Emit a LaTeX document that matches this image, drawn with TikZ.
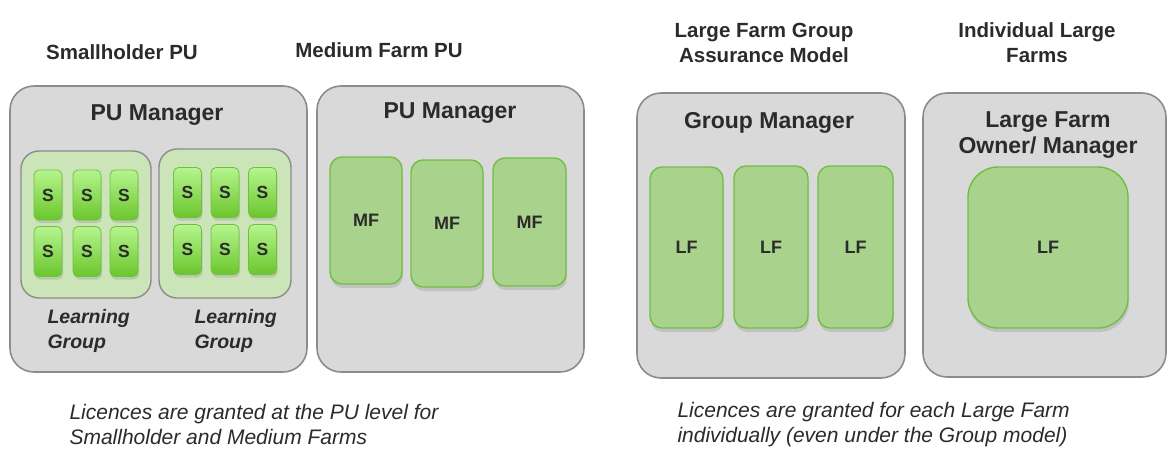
\documentclass[tikz,border=0pt]{standalone}
\usepackage{fontspec}
\setmainfont{Liberation Sans}
\usetikzlibrary{shadows}
\definecolor{panelfill}{HTML}{D9D9D9}
\definecolor{panelline}{HTML}{8C8C8C}
\definecolor{groupfill}{HTML}{CCE5B8}
\definecolor{farmfill}{HTML}{A9D38C}
\definecolor{farmline}{HTML}{72BE44}
\definecolor{stop}{HTML}{B5F58E}
\definecolor{sbottom}{HTML}{6BC62C}
\definecolor{txt}{HTML}{2B2B2B}
\tikzset{
  panel/.style={draw=panelline,fill=panelfill,line width=1.6pt,rounded corners=24pt,inner sep=0pt},
  group/.style={draw=panelline,fill=groupfill,line width=1.4pt,rounded corners=18pt,inner sep=0pt},
  sbox/.style={draw=farmline,line width=0.8pt,top color=stop,bottom color=sbottom,rounded corners=5pt,
    minimum width=28pt,minimum height=50pt,inner sep=0pt,text=txt,font=\fontsize{17.5}{20}\bfseries,
    drop shadow={shadow xshift=1pt,shadow yshift=-3pt,opacity=0.25}},
  farm/.style={draw=farmline,fill=farmfill,line width=1.4pt,rounded corners=12pt,inner sep=0pt,
    text=txt,font=\fontsize{18}{20}\bfseries,drop shadow={shadow xshift=1pt,shadow yshift=-4pt,opacity=0.25}},
  title/.style={text=txt,align=center,font=\fontsize{20.5}{25}\bfseries},
  head/.style={text=txt,align=center,font=\fontsize{23}{26}\bfseries},
  lgname/.style={text=txt,align=left,anchor=west,font=\fontsize{19.5}{25}\bfseries\itshape},
  note/.style={text=txt,align=left,anchor=west,font=\fontsize{21}{25}\itshape}
}
\begin{document}
\begin{tikzpicture}[x=1pt,y=-1pt]
                \useasboundingbox[fill=white] (0,0) rectangle (1169,453);
                \node[title] (tsh) at (122,52) {Smallholder PU};
                \node[title] (tmf) at (379,50) {Medium Farm PU};
                \node[title] (tlg) at (764,42.5) {Large Farm Group\\Assurance Model};
                \node[title] (tlf) at (1037,42.5) {Individual Large\\Farms};

                \node[panel,minimum width=297pt,minimum height=286pt] (psh) at (158.5,229) {};
                \node[panel,minimum width=267pt,minimum height=286pt] (pmf) at (450.5,229) {};
                \node[panel,minimum width=268pt,minimum height=285pt] (plg) at (771,235.5) {};
                \node[panel,minimum width=243pt,minimum height=284pt] (plf) at (1044.5,235) {};

                \node[head] (hsh) at (157,115) {PU Manager};
                \node[head] (hmf) at (450,113) {PU Manager};
                \node[head] (hlg) at (769,123) {Group Manager};
                \node[head] (hlf) at (1048,135) {Large Farm\\Owner/ Manager};

                \node[group,minimum width=130pt,minimum height=147pt] (ga) at (86,224.5) {};
                \node[group,minimum width=132pt,minimum height=149pt] (gb) at (225,223.5) {};
                \foreach \x/\n in {48/1,87/2,124/3}
                \foreach \y/\m in {195/1,251.5/2}
                \node[sbox] (sa\n\m) at (\x,\y) {S};
                \foreach \x/\n in {187.5/1,225/2,262.5/3}
                \foreach \y/\m in {192.5/1,249.5/2}
                \node[sbox] (sb\n\m) at (\x,\y) {S};
                \node[lgname] (la) at (44,330.5) {Learning\\Group};
                \node[lgname] (lb) at (191,330.5) {Learning\\Group};

                \node[farm,minimum width=72pt,minimum height=127pt] (mf1) at (366,220.5) {MF};
                \node[farm,minimum width=72pt,minimum height=127pt] (mf2) at (447,223.5) {MF};
                \node[farm,minimum width=73pt,minimum height=128pt] (mf3) at (529.5,222) {MF};

                \node[farm,minimum width=73pt,minimum height=161pt] (lf1) at (686.5,247.5) {LF};
                \node[farm,minimum width=74pt,minimum height=162pt] (lf2) at (771,247) {LF};
                \node[farm,minimum width=75pt,minimum height=162pt] (lf3) at (855.5,247) {LF};
                \node[farm,rounded corners=30pt,minimum width=160pt,minimum height=161pt] (lf4) at (1048,247.5) {LF};

                \node[note] (nl) at (66,424.5) {Licences are granted at the PU level for\\Smallholder and Medium Farms};
                \node[note] (nr) at (674,424.5) {Licences are granted for each Large Farm\\individually (even under the Group model)};
            \end{tikzpicture}
\end{document}
